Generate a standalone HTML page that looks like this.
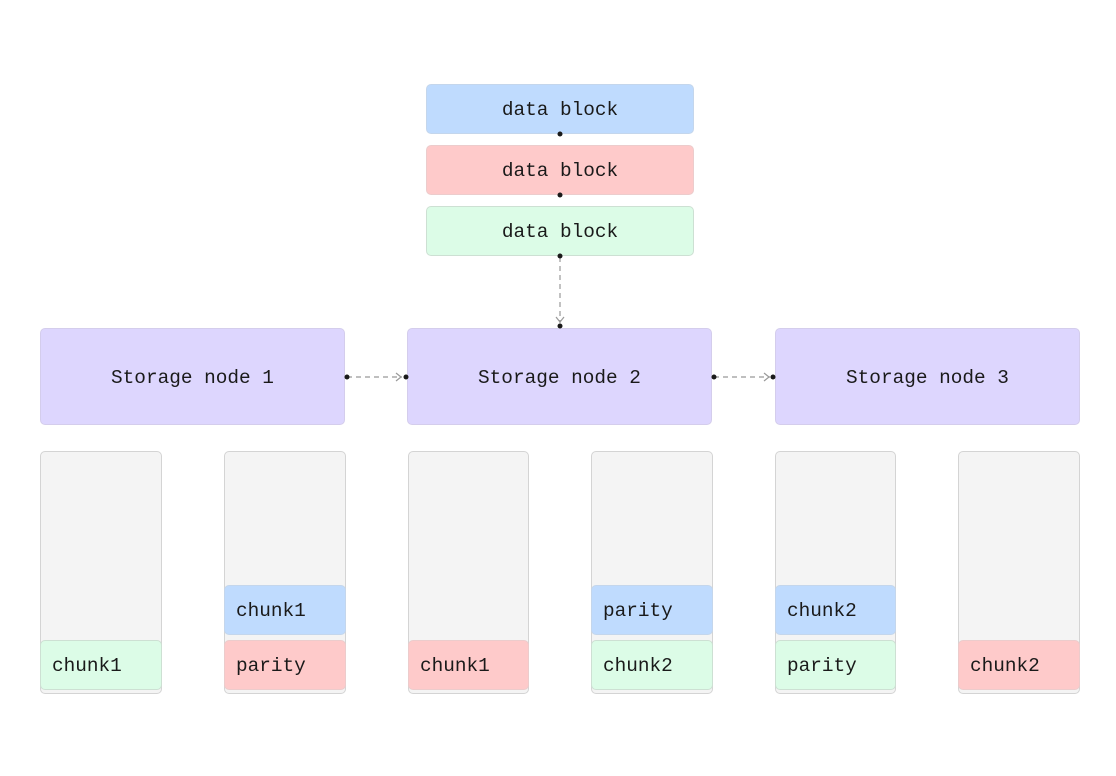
<!DOCTYPE html>
<html><head><style>
body{margin:0;width:1116px;height:776px;background:#fff;position:relative;overflow:hidden;font-family:"Liberation Mono",monospace;font-size:19.4px;color:#1a1a1a}
.b{position:absolute;box-sizing:border-box;border:1px solid #d4d4d4;border-radius:5px;display:flex;align-items:center;justify-content:center;padding-top:2px}
.c{justify-content:flex-start;padding-left:11px}
.bl{background:#bfdbfe;border-color:#c4d6ec}.rd{background:#fecaca;border-color:#eccccc}.gr{background:#dcfce7;border-color:#cde0d3}
.pu{background:#ddd6fe;border-color:#d4cdec}.gy{background:#f4f4f4;border-color:#d4d4d4}
</style></head><body>
<div class="b bl" style="left:426px;top:84px;width:268px;height:50px">data block</div>
<div class="b rd" style="left:426px;top:145px;width:268px;height:50px">data block</div>
<div class="b gr" style="left:426px;top:206px;width:268px;height:50px">data block</div>
<div class="b pu" style="left:40px;top:328px;width:305px;height:97px">Storage node 1</div>
<div class="b pu" style="left:407px;top:328px;width:305px;height:97px">Storage node 2</div>
<div class="b pu" style="left:775px;top:328px;width:305px;height:97px">Storage node 3</div>

<div class="b gy" style="left:40px;top:451px;width:122px;height:243px"></div>
<div class="b gy" style="left:224px;top:451px;width:122px;height:243px"></div>
<div class="b gy" style="left:408px;top:451px;width:121px;height:243px"></div>
<div class="b gy" style="left:591px;top:451px;width:122px;height:243px"></div>
<div class="b gy" style="left:775px;top:451px;width:121px;height:243px"></div>
<div class="b gy" style="left:958px;top:451px;width:122px;height:243px"></div>

<div class="b c gr" style="left:40px;top:640px;width:122px;height:50px">chunk1</div>
<div class="b c bl" style="left:224px;top:585px;width:122px;height:50px">chunk1</div>
<div class="b c rd" style="left:224px;top:640px;width:122px;height:50px">parity</div>
<div class="b c rd" style="left:408px;top:640px;width:121px;height:50px">chunk1</div>
<div class="b c bl" style="left:591px;top:585px;width:122px;height:50px">parity</div>
<div class="b c gr" style="left:591px;top:640px;width:122px;height:50px">chunk2</div>
<div class="b c bl" style="left:775px;top:585px;width:121px;height:50px">chunk2</div>
<div class="b c gr" style="left:775px;top:640px;width:121px;height:50px">parity</div>
<div class="b c rd" style="left:958px;top:640px;width:122px;height:50px">chunk2</div>

<svg width="1116" height="776" style="position:absolute;left:0;top:0">
<g stroke="#999" stroke-width="1.2" stroke-dasharray="5,4" fill="none">
<line x1="560" y1="257" x2="560" y2="323"/>
<line x1="347" y1="377" x2="402" y2="377"/>
<line x1="714" y1="377" x2="770" y2="377"/>
</g>
<g stroke="#999" stroke-width="1.2" fill="none">
<polyline points="556,317 560,322 564,317"/>
<polyline points="396,373 401,377 396,381"/>
<polyline points="764,373 769,377 764,381"/>
</g>
<g fill="#1a1a1a">
<circle cx="560" cy="134" r="2.5"/><circle cx="560" cy="195" r="2.5"/><circle cx="560" cy="256" r="2.5"/>
<circle cx="560" cy="326" r="2.5"/><circle cx="347" cy="377" r="2.5"/><circle cx="406" cy="377" r="2.5"/>
<circle cx="714" cy="377" r="2.5"/><circle cx="773" cy="377" r="2.5"/>
</g>
</svg>
</body></html>
